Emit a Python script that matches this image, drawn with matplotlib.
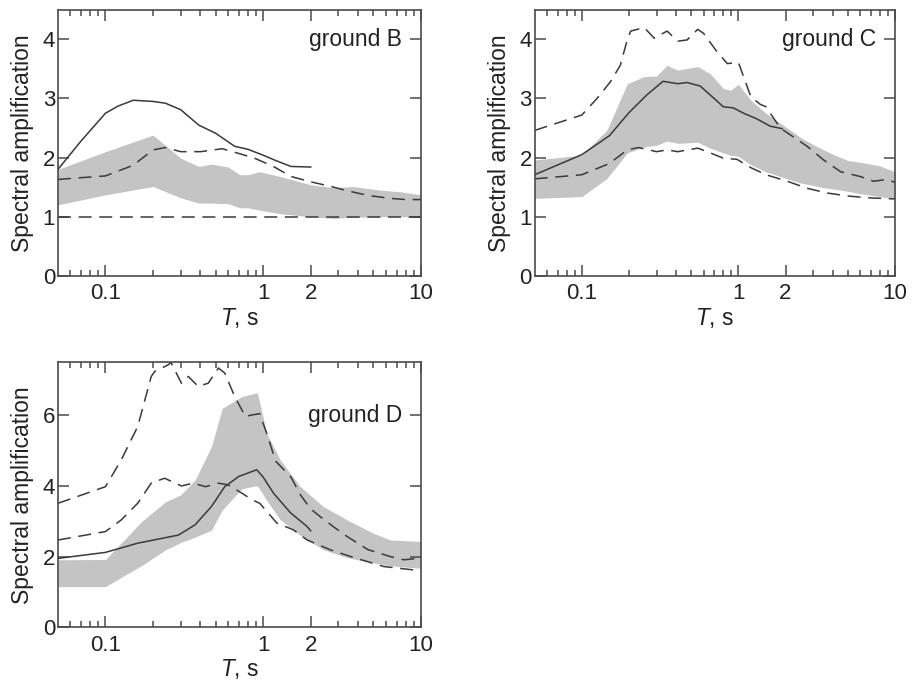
import matplotlib.pyplot as plt
import matplotlib.ticker as mticker

plt.rcParams['font.family'] = ['Liberation Sans', 'DejaVu Sans']
plt.rcParams['mathtext.fontset'] = 'custom'
plt.rcParams['mathtext.it'] = 'Liberation Sans:italic'
plt.rcParams['mathtext.rm'] = 'Liberation Sans'

# ---- ground B ----
b_solid_T = [0.05, 0.07, 0.1, 0.12, 0.15, 0.2, 0.24, 0.3, 0.39, 0.5, 0.66, 0.8, 1.0, 1.2, 1.5, 2.0]
b_solid = [1.80, 2.28, 2.75, 2.87, 2.97, 2.95, 2.92, 2.81, 2.55, 2.41, 2.19, 2.14, 2.04, 1.95, 1.85, 1.84]
b_dash_T = [0.05, 0.07, 0.1, 0.15, 0.2, 0.24, 0.3, 0.4, 0.55, 0.72, 0.88, 1.16, 1.5, 2.0, 2.7, 3.4, 4.6, 6.4, 8.0, 10]
b_dash = [1.63, 1.66, 1.69, 1.87, 2.13, 2.17, 2.10, 2.10, 2.15, 2.06, 1.99, 1.85, 1.68, 1.59, 1.51, 1.44, 1.36, 1.31, 1.29, 1.29]
b_low_T = [0.05, 10]
b_low = [1.0, 1.0]
b_band_T = [0.05, 0.1, 0.2, 0.3, 0.39, 0.47, 0.6, 0.71, 0.8, 0.95, 1.28, 2.0, 2.8, 3.7, 5.5, 7.5, 10]
b_band_hi = [1.80, 2.10, 2.38, 1.99, 1.85, 1.89, 1.84, 1.71, 1.71, 1.76, 1.68, 1.54, 1.49, 1.51, 1.45, 1.42, 1.37]
b_band_lo = [1.20, 1.37, 1.51, 1.32, 1.23, 1.23, 1.22, 1.15, 1.15, 1.11, 1.05, 1.00, 0.97, 0.99, 1.0, 1.0, 1.0]

# ---- ground C ----
c_solid_T = [0.05, 0.1, 0.15, 0.2, 0.26, 0.33, 0.41, 0.47, 0.57, 0.7, 0.8, 0.93, 1.08, 1.3, 1.6, 1.9]
c_solid = [1.71, 2.05, 2.37, 2.76, 3.06, 3.29, 3.25, 3.27, 3.21, 3.0, 2.86, 2.84, 2.75, 2.66, 2.53, 2.49]
c_up_T = [0.05, 0.1, 0.125, 0.152, 0.176, 0.195, 0.205, 0.25, 0.29, 0.35, 0.41, 0.47, 0.55, 0.6, 0.73, 0.85,
          1.0, 1.2, 1.38, 1.5, 1.85, 2.05, 2.75, 3.5, 4.5, 6.0, 7.3, 8.9, 10]
c_up = [2.46, 2.72, 3.00, 3.28, 3.56, 3.99, 4.14, 4.20, 4.02, 4.14, 3.97, 3.99, 4.17, 4.10, 3.79, 3.59,
        3.61, 3.03, 2.90, 2.86, 2.50, 2.42, 2.19, 1.96, 1.76, 1.68, 1.60, 1.63, 1.58]
c_low_T = [0.05, 0.1, 0.15, 0.195, 0.23, 0.3, 0.35, 0.41, 0.55, 0.66, 0.8, 0.98, 1.2, 1.5, 2.05, 2.75, 3.7, 5, 6.7, 10]
c_low = [1.64, 1.71, 1.90, 2.13, 2.17, 2.10, 2.13, 2.10, 2.16, 2.08, 1.99, 1.97, 1.83, 1.71, 1.60, 1.48, 1.40, 1.35, 1.32, 1.30]
c_band_T = [0.05, 0.1, 0.145, 0.195, 0.25, 0.3, 0.35, 0.41, 0.55, 0.66, 0.8, 0.89, 1.0, 1.2, 1.5, 2.0, 2.5,
            3.0, 3.5, 4.0, 5.0, 6.0, 8.0, 10]
c_band_hi = [1.96, 2.04, 2.47, 3.25, 3.37, 3.38, 3.56, 3.48, 3.54, 3.42, 3.17, 3.14, 3.24, 2.97, 2.75, 2.52, 2.34,
             2.22, 2.13, 2.06, 1.95, 1.92, 1.86, 1.76]
c_band_lo = [1.31, 1.34, 1.65, 2.08, 2.18, 2.21, 2.28, 2.24, 2.26, 2.16, 2.08, 2.04, 2.02, 1.88, 1.76, 1.65, 1.57,
             1.53, 1.49, 1.47, 1.43, 1.39, 1.34, 1.30]

# ---- ground D ----
d_solid_T = [0.05, 0.1, 0.16, 0.29, 0.37, 0.47, 0.57, 0.7, 0.85, 0.91, 1.0, 1.16, 1.49, 1.9, 2.0]
d_solid = [1.95, 2.12, 2.38, 2.61, 2.90, 3.42, 3.98, 4.27, 4.41, 4.46, 4.25, 3.80, 3.24, 2.85, 2.73]
d_up_T = [0.05, 0.1, 0.126, 0.16, 0.195, 0.205, 0.25, 0.26, 0.303, 0.335, 0.387, 0.448, 0.52, 0.57, 0.66, 0.77,
          0.85, 0.95, 1.05, 1.2, 1.5, 1.72, 2.0, 2.3, 2.78, 3.4, 4.6, 6.4, 7.8, 10]
d_up = [3.51, 3.98, 4.74, 5.68, 7.10, 7.24, 7.43, 7.5, 6.91, 7.10, 6.82, 6.91, 7.34, 7.20, 6.53, 5.97,
        6.01, 6.05, 5.5, 4.7, 4.25, 3.75, 3.35, 3.13, 2.85, 2.57, 2.20, 2.0, 1.91, 1.96]
d_low_T = [0.05, 0.1, 0.126, 0.16, 0.195, 0.237, 0.303, 0.36, 0.43, 0.52, 0.6, 0.73, 0.85, 0.95, 1.22, 1.55,
           1.9, 2.67, 3.6, 5.8, 10]
d_low = [2.47, 2.71, 3.04, 3.51, 4.08, 4.22, 4.0, 4.08, 3.98, 4.08, 4.03, 3.80, 3.61, 3.51, 2.95, 2.76,
         2.47, 2.19, 2.0, 1.72, 1.60]
d_band_T = [0.05, 0.1, 0.13, 0.17, 0.24, 0.3, 0.37, 0.47, 0.55, 0.73, 0.89, 0.92, 1.05, 1.28, 1.72, 2.4,
            3.4, 5.0, 6.4, 10]
d_band_hi = [1.91, 1.92, 2.45, 3.0, 3.55, 3.75, 4.17, 5.12, 6.20, 6.53, 6.63, 6.63, 5.50, 4.74, 3.98, 3.42,
             3.04, 2.66, 2.47, 2.43]
d_band_lo = [1.15, 1.15, 1.45, 1.75, 2.19, 2.40, 2.55, 2.75, 3.32, 3.92, 4.0, 4.0, 3.6, 3.05, 2.6, 2.2,
             1.97, 1.82, 1.74, 1.67]

line_col = '#3a3a3a'
band_col = '#c4c4c4'
dash = (0, (8.5, 5))

fig = plt.figure(figsize=(9.2, 6.81), dpi=100)


def setup(ax, ymax, yticks, label, label_y):
    ax.set_xscale('log')
    ax.set_xlim(0.05, 10)
    ax.set_ylim(0, ymax)
    ax.set_yticks(yticks)
    ax.xaxis.set_major_locator(mticker.FixedLocator([0.1, 1, 2, 10]))
    ax.xaxis.set_major_formatter(mticker.FixedFormatter(['0.1', '1', '2', '10']))
    minors = [0.06, 0.07, 0.08, 0.09, 0.2, 0.3, 0.4, 0.5, 0.6, 0.7, 0.8, 0.9, 3, 4, 5, 6, 7, 8, 9]
    ax.xaxis.set_minor_locator(mticker.FixedLocator(minors))
    ax.xaxis.set_minor_formatter(mticker.NullFormatter())
    ax.tick_params(which='both', direction='in', top=True, right=True,
                   colors='#4a4a4a', labelcolor='#222222', labelsize=16, width=1.1)
    ax.tick_params(which='major', length=8)
    ax.tick_params(which='minor', length=4)
    ax.tick_params(axis='x', which='major', pad=5.5)
    ax.tick_params(axis='y', which='major', pad=2)
    for s in ax.spines.values():
        s.set_color('#4a4a4a')
        s.set_linewidth(1.2)
    ax.set_xlabel(r'$T$, s', fontsize=16.5, color='#222222', labelpad=1)
    ax.set_ylabel('Spectral amplification', fontsize=16.5, color='#222222', labelpad=6)
    ax.text(0.948, label_y, label, transform=ax.get_yaxis_transform(), ha='right', va='center',
            fontsize=16.5, color='#222222')


def draw(ax, band_T, band_lo, band_hi, solid_T, solid, dashed_sets):
    ax.fill_between(band_T, band_lo, band_hi, color=band_col, lw=0, zorder=1)
    for t, v in dashed_sets:
        ax.plot(t, v, color=line_col, lw=1.1, linestyle=dash, zorder=2)
    ax.plot(solid_T, solid, color=line_col, lw=1.1, zorder=3)


axB = fig.add_axes([0.063, 0.595, 0.3946, 0.3906])
draw(axB, b_band_T, b_band_lo, b_band_hi, b_solid_T, b_solid,
     [(b_dash_T, b_dash), (b_low_T, b_low)])
setup(axB, 4.5, [0, 1, 2, 3, 4], 'ground B', 4)

axC = fig.add_axes([0.5812, 0.595, 0.3916, 0.3906])
draw(axC, c_band_T, c_band_lo, c_band_hi, c_solid_T, c_solid,
     [(c_up_T, c_up), (c_low_T, c_low)])
setup(axC, 4.5, [0, 1, 2, 3, 4], 'ground C', 4)

axD = fig.add_axes([0.063, 0.0789, 0.3946, 0.389])
draw(axD, d_band_T, d_band_lo, d_band_hi, d_solid_T, d_solid,
     [(d_up_T, d_up), (d_low_T, d_low)])
setup(axD, 7.5, [0, 2, 4, 6], 'ground D', 6)

fig.savefig('out.png', dpi=100)
